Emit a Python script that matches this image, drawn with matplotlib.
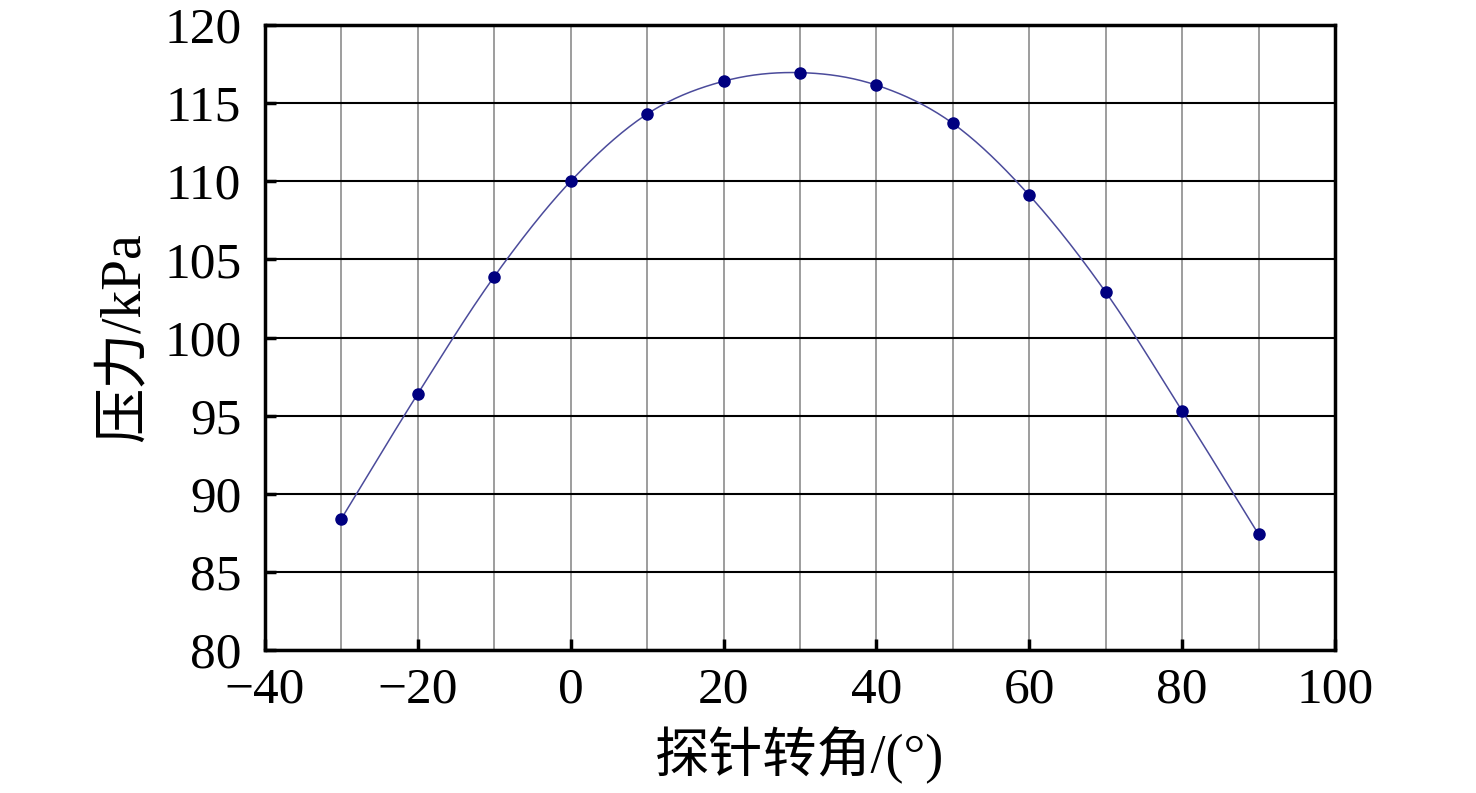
import numpy as np
import matplotlib
matplotlib.use("Agg")
import matplotlib.pyplot as plt
from matplotlib.ticker import MultipleLocator

# Data
angle = [-30, -20, -10, 0, 10, 20, 30, 40, 50, 60, 70, 80, 90]
pressure = [88.4, 96.4, 103.9, 110.0, 114.3, 116.4, 116.95, 116.15, 113.7, 109.1, 102.9, 95.3, 87.4]

FONT = ["Liberation Serif", "Noto Sans CJK SC"]


def smooth(xs, ys, n=30):
    # Catmull-Rom style smoothing between the measured points (like a spreadsheet "smooth line")
    xs = np.asarray(xs, float)
    ys = np.asarray(ys, float)
    px = np.concatenate([[2 * xs[0] - xs[1]], xs, [2 * xs[-1] - xs[-2]]])
    py = np.concatenate([[2 * ys[0] - ys[1]], ys, [2 * ys[-1] - ys[-2]]])
    out_x, out_y = [], []
    for i in range(1, len(px) - 2):
        t = np.linspace(0, 1, n, endpoint=False)
        for arr, out in ((px, out_x), (py, out_y)):
            p0, p1, p2, p3 = arr[i - 1], arr[i], arr[i + 1], arr[i + 2]
            m1 = (p2 - p0) / 2
            m2 = (p3 - p1) / 2
            h00 = 2 * t**3 - 3 * t**2 + 1
            h10 = t**3 - 2 * t**2 + t
            h01 = -2 * t**3 + 3 * t**2
            h11 = t**3 - t**2
            out.extend(h00 * p1 + h10 * m1 + h01 * p2 + h11 * m2)
    out_x.append(xs[-1])
    out_y.append(ys[-1])
    return np.array(out_x), np.array(out_y)


fig = plt.figure(figsize=(14.76, 7.93), dpi=100)
ax = fig.add_axes([0.1795, 0.1803, 0.725, 0.7882])

sx, sy = smooth(angle, pressure)
ax.plot(sx, sy, color="#4b4b9b", lw=1.1, zorder=3)
ax.plot(angle, pressure, "o", color="#000080", markersize=8, zorder=4)

ax.set_xlim(-40, 100)
ax.set_ylim(80, 120)
ax.xaxis.set_major_locator(MultipleLocator(20))
ax.xaxis.set_minor_locator(MultipleLocator(10))
ax.yaxis.set_major_locator(MultipleLocator(5))

ax.grid(axis="x", which="both", color="#8c8c8c", lw=1.2)
ax.grid(axis="y", which="major", color="black", lw=1.5)
ax.set_axisbelow(True)

for s in ax.spines.values():
    s.set_linewidth(2.5)

ax.tick_params(which="major", direction="in", length=8, width=2.5, labelsize=37)
ax.tick_params(which="minor", direction="in", length=0)
ax.tick_params(axis="x", pad=12)
ax.tick_params(axis="y", pad=17)
for lab in ax.get_xticklabels() + ax.get_yticklabels():
    lab.set_family(FONT)

ax.set_xlabel("探针转角/(°)", fontsize=39, family=FONT, labelpad=10)
ax.set_ylabel("压力/kPa", fontsize=40, family=FONT, labelpad=10)

fig.savefig("out.png", dpi=100)
